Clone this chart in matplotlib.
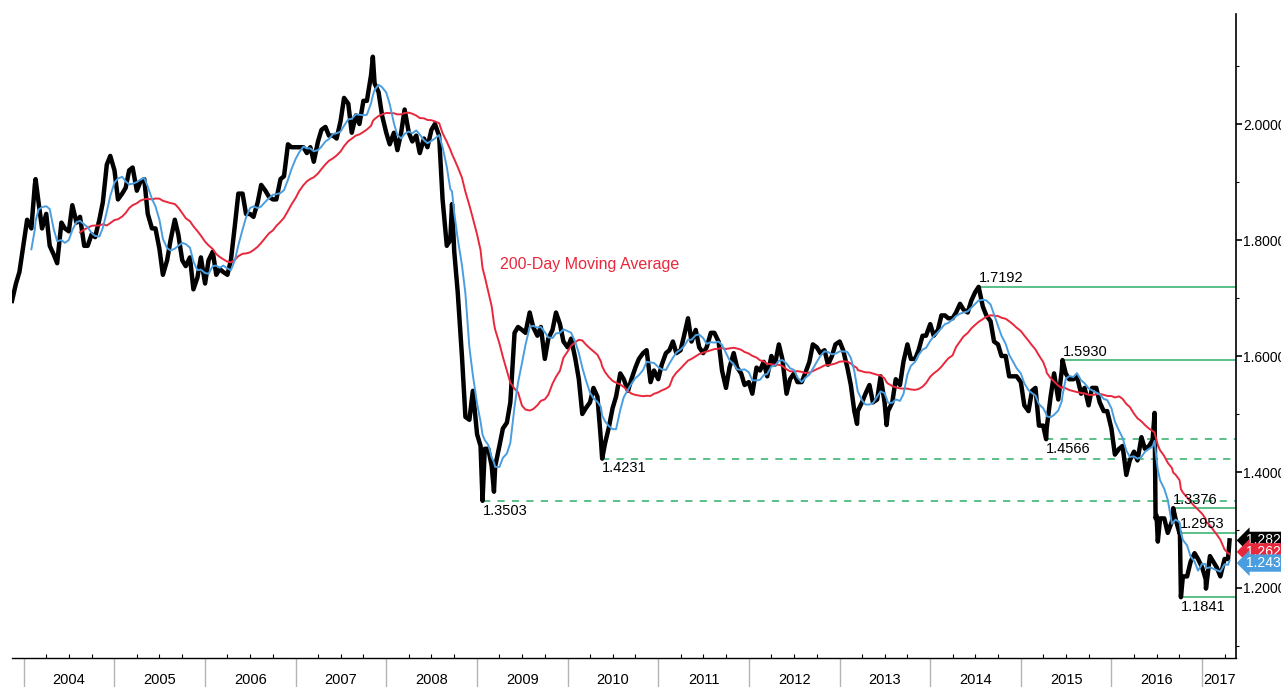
import numpy as np
import pandas as pd
import matplotlib
matplotlib.use('Agg')
import matplotlib.pyplot as plt
import matplotlib.dates as mdates
import matplotlib.transforms as mtransforms
from matplotlib.ticker import MultipleLocator, FormatStrFormatter

plt.rcParams['font.family'] = ['Liberation Sans', 'DejaVu Sans']

# GBP/USD, one value on the 1st and the 15th of each month
gbp_2003 = [1.695, 1.725, 1.745]
gbp_2004 = [1.795, 1.835, 1.820, 1.895, 1.865, 1.820, 1.845, 1.790, 1.775, 1.760, 1.830, 1.820,
            1.815, 1.860, 1.830, 1.840, 1.790, 1.790, 1.810, 1.805, 1.835, 1.865, 1.930, 1.945]
gbp_2005 = [1.920, 1.870, 1.880, 1.890, 1.920, 1.925, 1.885, 1.900, 1.905, 1.845, 1.820, 1.820,
            1.785, 1.740, 1.765, 1.800, 1.835, 1.810, 1.765, 1.755, 1.770, 1.715, 1.735, 1.770]
gbp_2006 = [1.725, 1.765, 1.780, 1.740, 1.750, 1.745, 1.740, 1.765, 1.825, 1.880, 1.880, 1.845,
            1.845, 1.840, 1.865, 1.895, 1.885, 1.875, 1.870, 1.870, 1.905, 1.910, 1.965, 1.960]
gbp_2007 = [1.960, 1.960, 1.960, 1.950, 1.960, 1.935, 1.970, 1.990, 1.995, 1.980, 1.980, 1.975,
            2.005, 2.045, 2.035, 1.985, 2.015, 2.000, 2.040, 2.040, 2.085, 2.070, 2.055, 2.015]
gbp_2008 = [1.985, 1.965, 1.985, 1.955, 1.985, 2.025, 1.985, 1.970, 1.980, 1.950, 1.975, 1.960,
            1.990, 2.000, 1.980, 1.870, 1.790, 1.800, 1.780, 1.710, 1.600, 1.495, 1.490, 1.540]
gbp_2009 = [1.465, 1.445, 1.440, 1.440, 1.410, 1.410, 1.445, 1.475, 1.485, 1.520, 1.640, 1.650,
            1.645, 1.640, 1.675, 1.650, 1.635, 1.650, 1.595, 1.630, 1.645, 1.675, 1.655, 1.625]
gbp_2010 = [1.615, 1.630, 1.595, 1.560, 1.500, 1.510, 1.520, 1.545, 1.530, 1.455, 1.450, 1.475,
            1.510, 1.530, 1.570, 1.560, 1.540, 1.560, 1.580, 1.595, 1.605, 1.610, 1.555, 1.575]
gbp_2011 = [1.560, 1.585, 1.605, 1.610, 1.625, 1.605, 1.610, 1.635, 1.665, 1.625, 1.645, 1.615,
            1.605, 1.615, 1.640, 1.640, 1.625, 1.575, 1.545, 1.580, 1.605, 1.580, 1.570, 1.550]
gbp_2012 = [1.555, 1.535, 1.580, 1.575, 1.590, 1.565, 1.600, 1.585, 1.620, 1.595, 1.535, 1.560,
            1.570, 1.555, 1.555, 1.570, 1.590, 1.620, 1.615, 1.605, 1.610, 1.585, 1.600, 1.620]
gbp_2013 = [1.625, 1.610, 1.580, 1.550, 1.505, 1.505, 1.520, 1.535, 1.550, 1.520, 1.525, 1.565,
            1.520, 1.505, 1.520, 1.560, 1.550, 1.590, 1.620, 1.595, 1.595, 1.610, 1.635, 1.635]
gbp_2014 = [1.655, 1.635, 1.645, 1.670, 1.670, 1.665, 1.665, 1.675, 1.690, 1.680, 1.675, 1.695,
            1.710, 1.715, 1.685, 1.670, 1.660, 1.625, 1.620, 1.600, 1.600, 1.565, 1.565, 1.565]
gbp_2015 = [1.555, 1.515, 1.505, 1.540, 1.545, 1.480, 1.480, 1.475, 1.530, 1.570, 1.525, 1.575,
            1.570, 1.560, 1.560, 1.565, 1.535, 1.545, 1.515, 1.545, 1.545, 1.520, 1.505, 1.505]
gbp_2016 = [1.475, 1.430, 1.440, 1.445, 1.395, 1.420, 1.435, 1.420, 1.460, 1.440, 1.445, 1.455,
            1.325, 1.320, 1.320, 1.295, 1.315, 1.320, 1.295, 1.220, 1.220, 1.245, 1.260, 1.250]
gbp_2017 = [1.235, 1.215, 1.255, 1.245, 1.235, 1.220, 1.250, 1.250]
last_date = '2017-04-21'
last_close = 1.2821

# daily extremes the half-monthly samples would miss
extra_dates = ['2004-02-18', '2007-11-08', '2008-09-22', '2009-03-10', '2013-03-12',
               '2013-07-09', '2016-06-23', '2016-06-27', '2016-07-06', '2017-01-16']
extra_vals = [1.905, 2.116, 1.862, 1.366, 1.483, 1.481, 1.502, 1.320, 1.280, 1.199]

# marked highs / lows
level_vals = [1.7192, 1.5930, 1.4566, 1.4231, 1.3503, 1.3376, 1.2953, 1.1841]
level_dates = ['2014-07-15', '2015-06-18', '2015-04-13', '2010-05-20', '2009-01-23',
               '2016-09-06', '2016-10-03', '2016-10-07']
level_dashed = [False, False, True, True, True, False, False, False]
level_above = [True, True, False, False, False, True, True, False]

# last values shown at the right edge
tag_vals = [1.2821, 1.2623, 1.2430]
tag_cols = ['black', '#e8283c', '#4a9ee0']

RED = '#e8283c'
BLUE = '#4a9ee0'
GREEN = '#4dbb80'

vals = (gbp_2003 + gbp_2004 + gbp_2005 + gbp_2006 + gbp_2007 + gbp_2008 + gbp_2009 +
        gbp_2010 + gbp_2011 + gbp_2012 + gbp_2013 + gbp_2014 + gbp_2015 + gbp_2016 + gbp_2017)
dates = pd.date_range('2003-11-15', periods=len(vals), freq='SMS')
s = pd.Series(vals, index=dates)
s = pd.concat([s,
               pd.Series(extra_vals, index=pd.to_datetime(extra_dates)),
               pd.Series(level_vals, index=pd.to_datetime(level_dates)),
               pd.Series([last_close], index=pd.to_datetime([last_date]))])
s = s.groupby(level=0).last().sort_index()

start = s.index[0]
ma50 = s.rolling('70D').mean()
ma50[s.index < start + pd.Timedelta('68D')] = np.nan
ma200 = s.rolling('280D').mean()
ma200[s.index < start + pd.Timedelta('270D')] = np.nan

fig = plt.figure(figsize=(12.81, 6.87), dpi=100)
ax = fig.add_axes([12/1281, 1-658/687, 1224/1281, 644/687])

ax.plot(s.index, s.values, color='black', lw=3.2, zorder=2)
ax.plot(ma200.index, ma200.values, color=RED, lw=1.4, zorder=3)
ax.plot(ma50.index, ma50.values, color=BLUE, lw=1.4, zorder=4)

xmin = pd.Timestamp('2003-11-15')
xmax = pd.Timestamp('2017-05-17')
ax.set_xlim(xmin, xmax)
ax.set_ylim(1.0793, 2.1897)

for v, d, dash, above in zip(level_vals, level_dates, level_dashed, level_above):
    d = pd.Timestamp(d)
    ax.plot([d, xmax], [v, v], color=GREEN, lw=1.3, zorder=1,
            ls=(0, (4, 4)) if dash else '-')
    ax.annotate('%.4f' % v, xy=(d, v), xytext=(0, 1 if above else -2),
                textcoords='offset points', ha='left',
                va='bottom' if above else 'top', fontsize=10.5, color='black')

ax.text(pd.Timestamp('2009-04-05'), 1.757, '200-Day Moving Average', color=RED,
        fontsize=11.5, va='center', ha='left')

# right-edge value tags
trans = mtransforms.blended_transform_factory(ax.transAxes, ax.transData)
for v, c in zip(tag_vals, tag_cols):
    ax.annotate('%.4f' % v, xy=(1, v), xycoords=trans, xytext=(7, 0),
                textcoords='offset points', va='center', ha='left', fontsize=10,
                color='white', annotation_clip=False, zorder=10,
                bbox=dict(boxstyle='larrow,pad=0.12', fc=c, ec='none'))

# axes styling
for sp in ['left', 'top']:
    ax.spines[sp].set_visible(False)
ax.spines['right'].set_linewidth(1.2)
ax.spines['bottom'].set_linewidth(1.0)

ax.yaxis.tick_right()
ax.yaxis.set_major_locator(MultipleLocator(0.2))
ax.yaxis.set_minor_locator(MultipleLocator(0.1))
ax.yaxis.set_major_formatter(FormatStrFormatter('%.4f'))
ax.tick_params(axis='y', which='major', direction='out', length=4, width=1.2,
               labelsize=10, pad=1)
ax.tick_params(axis='y', which='minor', direction='out', length=2.5, width=0.8)

ax.xaxis.set_major_locator(mdates.YearLocator())
ax.xaxis.set_minor_locator(mdates.MonthLocator(bymonth=[4, 7, 10]))
ax.xaxis.set_major_formatter(plt.NullFormatter())
ax.tick_params(axis='x', which='major', direction='out', length=21, width=1,
               color='#b4b4b4')
ax.tick_params(axis='x', which='minor', direction='in', length=3, width=0.8)

xtrans = mtransforms.blended_transform_factory(ax.transData, ax.transAxes)
for yr in range(2004, 2018):
    a = pd.Timestamp('%d-01-01' % yr)
    b = min(pd.Timestamp('%d-01-01' % (yr + 1)), xmax)
    mid = a + (b - a) / 2
    ax.text(mid, -0.034, str(yr), transform=xtrans, ha='center', va='center',
            fontsize=10.5)

fig.savefig('out.png', dpi=100)
